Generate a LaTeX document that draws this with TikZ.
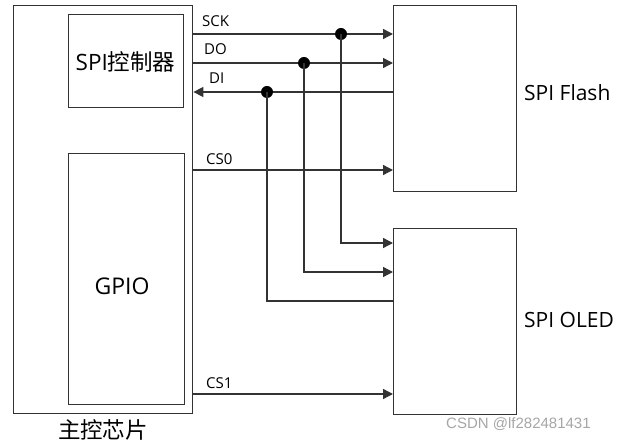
\documentclass[tikz,border=0pt]{standalone}
\usepackage{fontspec}
\setmainfont{Open Sans}
\newfontfamily\cjk{Noto Sans CJK SC}
\newfontfamily\wmfont{Liberation Sans}
\usetikzlibrary{arrows.meta}
\definecolor{ln}{HTML}{333333}
\tikzset{
  box/.style={draw=ln, line width=1.4pt, fill=white, anchor=north west, inner sep=0pt},
  wire/.style={draw=ln, line width=1.4pt},
  arr/.style={wire, -{Triangle[length=10pt,width=10pt]}},
  dot/.style={circle, fill=black, inner sep=0pt, minimum size=12pt},
  sig/.style={anchor=west, font=\fontsize{15}{15}\selectfont, text=black, inner sep=0pt},
  big/.style={font=\fontsize{21}{21}\selectfont, text=black, inner sep=0pt},
}
\begin{document}
\begin{tikzpicture}[x=1pt, y=-1pt]
\useasboundingbox (0,0) rectangle (622,446);
% boxes
\node[box, minimum width=179pt, minimum height=408pt] (chip) at (13,5) {};
\node[box, minimum width=115pt, minimum height=93pt] (ctrl) at (68,14) {};
\node[box, minimum width=116pt, minimum height=251pt] (gpio) at (68,153) {};
\node[box, minimum width=123pt, minimum height=186pt] (flash) at (393,5) {};
\node[box, minimum width=123pt, minimum height=186pt] (oled) at (393,228) {};
% box texts
\node[big, font=\fontsize{22.5}{22.5}\selectfont] (ctrltxt) at (125.5,62) {SPI\cjk 控制器};
\node[big, font=\fontsize{23}{23}\selectfont] (gpiotxt) at (122,286) {GPIO};
\node[big, font=\cjk\fontsize{22.5}{22.5}\selectfont] (chiptxt) at (103,430) {主控芯片};
\node[big, anchor=west] (flashtxt) at (524,93) {SPI Flash};
\node[big, anchor=west] (oledtxt) at (524,320) {SPI OLED};
% row coordinates
\coordinate (ySCK) at (0,34);
\coordinate (yDO) at (0,63);
\coordinate (yDI) at (0,92);
\coordinate (yCS0) at (0,170);
\coordinate (yCS1) at (0,394);
\coordinate (oSCK) at (0,243);
\coordinate (oDO) at (0,272);
\coordinate (oDI) at (0,301);
% bus lines
\draw[arr] (chip.east |- ySCK) -- (flash.west |- ySCK);
\draw[arr] (chip.east |- yDO) -- (flash.west |- yDO);
\draw[arr] (flash.west |- yDI) -- (chip.east |- yDI);
\draw[arr] (chip.east |- yCS0) -- (flash.west |- yCS0);
\draw[arr] (chip.east |- yCS1) -- (oled.west |- yCS1);
% junctions
\node[dot] (jSCK) at (341,34) {};
\node[dot] (jDO) at (304,63) {};
\node[dot] (jDI) at (267,92) {};
\draw[arr] (jSCK.center) |- (oled.west |- oSCK);
\draw[arr] (jDO.center) |- (oled.west |- oDO);
\draw[wire] (jDI.center) |- (oled.west |- oDI);
% labels
\node[sig] (lSCK) at (202,21) {SCK};
\node[sig] (lDO) at (204,49) {DO};
\node[sig] (lDI) at (209,78) {DI};
\node[sig] (lCS0) at (206,159) {CS0};
\node[sig] (lCS1) at (206,383) {CS1};
% watermark
\node[font=\wmfont\fontsize{15}{15}\selectfont, text=black!35, anchor=west, inner sep=0pt] (wm) at (446,424) {CSDN @lf282481431};
\end{tikzpicture}
\end{document}
